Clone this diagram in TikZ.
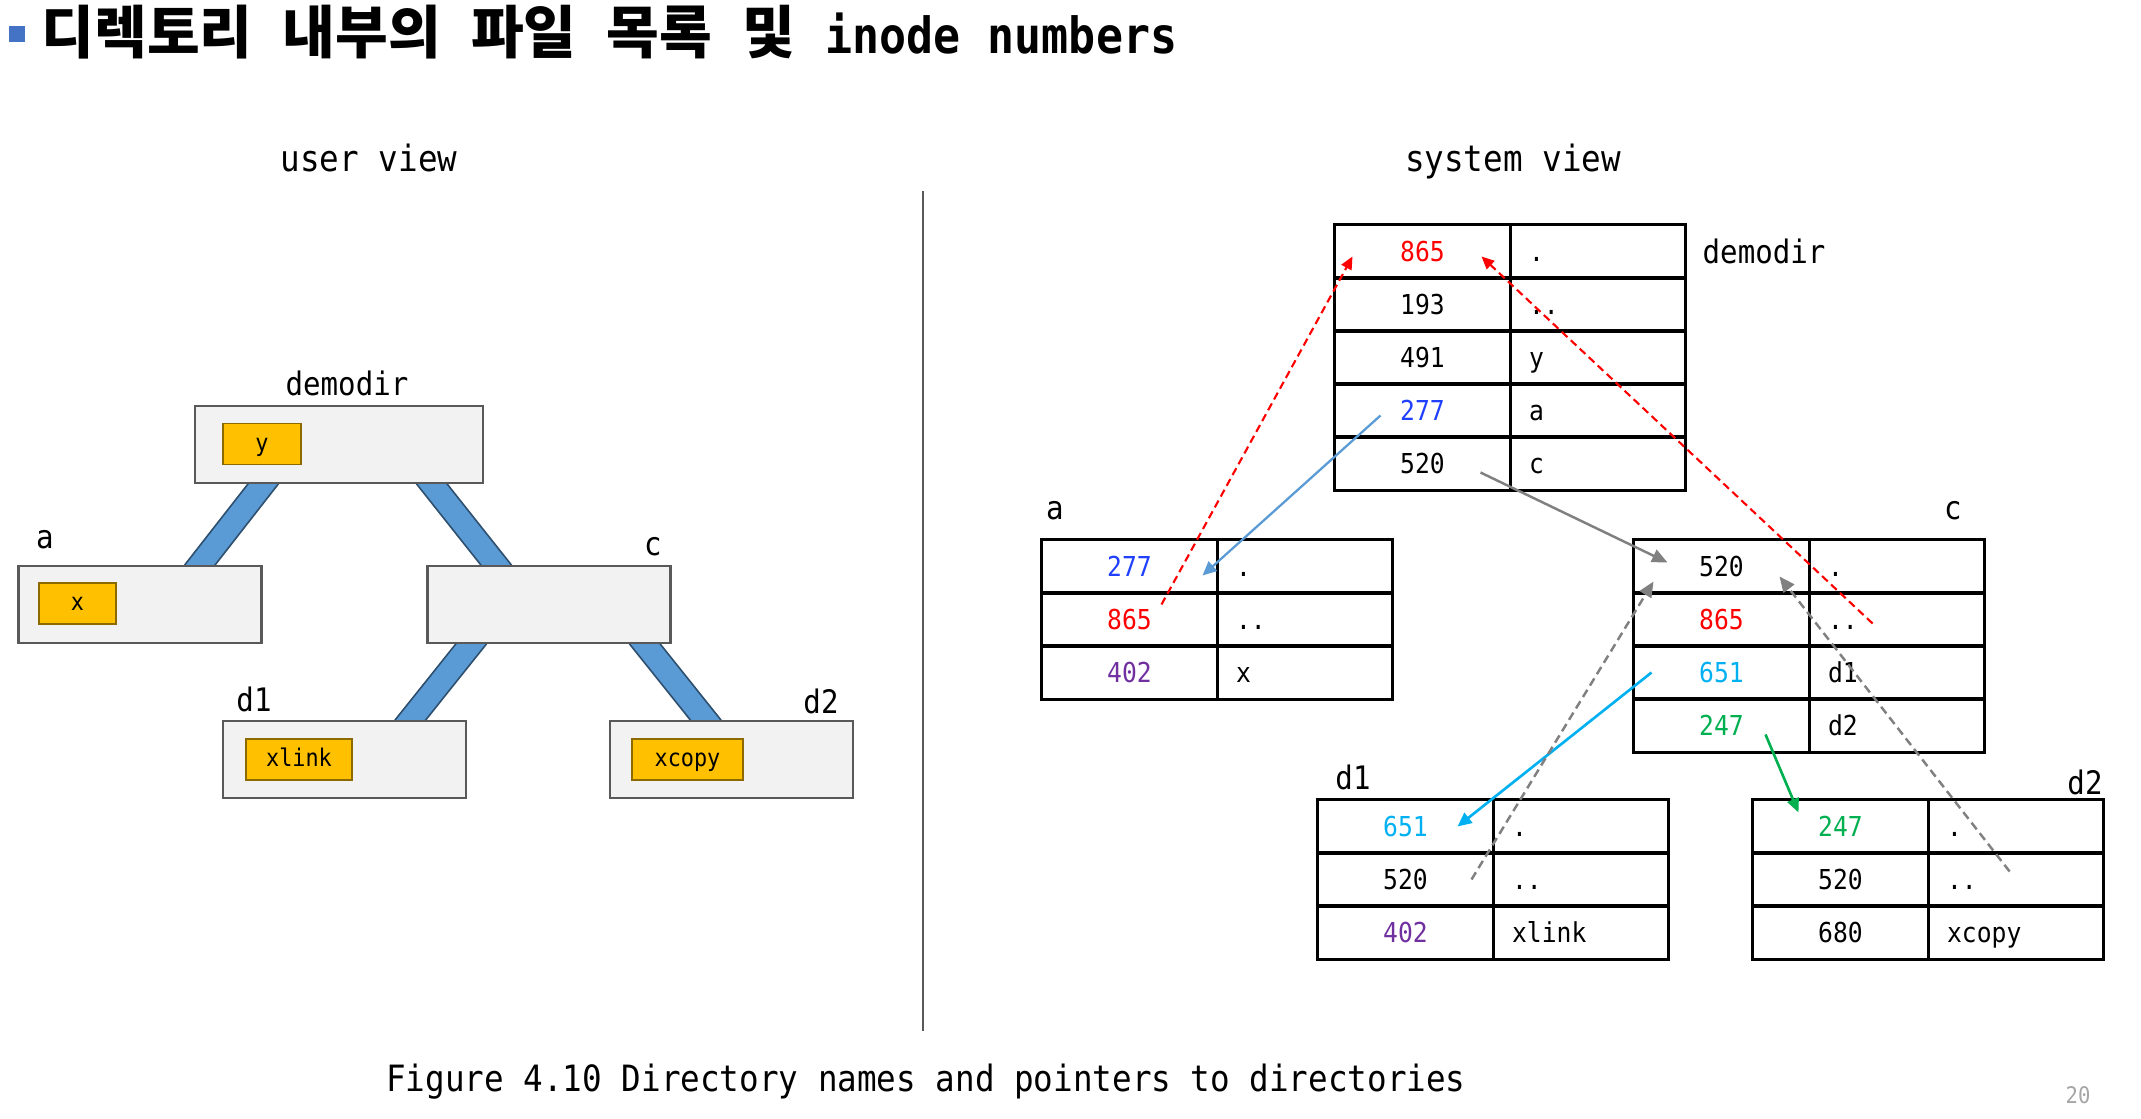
\documentclass[tikz,border=0pt]{standalone}
\usepackage{fontspec}
\setmainfont{DejaVu Sans Mono}[FakeStretch=0.9]
\newfontfamily\cjk{Noto Sans CJK KR}[WordSpace=2.3]
\usepackage{xcolor}
\usepackage{tikz}
\usetikzlibrary{calc,arrows.meta,positioning,backgrounds}
\definecolor{redc}{HTML}{FF0000}
\definecolor{bluec}{HTML}{2040FF}
\definecolor{purc}{HTML}{7030A0}
\definecolor{cyanc}{HTML}{00B0F0}
\definecolor{greenc}{HTML}{00B050}
\definecolor{linkc}{HTML}{5B9BD5}
\definecolor{bandedge}{HTML}{2E4F6E}
\definecolor{boxfill}{HTML}{F2F2F2}
\definecolor{boxedge}{HTML}{595959}
\definecolor{filec}{HTML}{FFC000}
\definecolor{fileedge}{HTML}{8C6A00}
\definecolor{grayc}{HTML}{808080}
\definecolor{bulletc}{HTML}{4472C4}
\tikzset{
  cell/.style={draw,line width=0.85pt,minimum height=0.53cm,inner sep=0pt,outer sep=0pt,
    font=\fontsize{7.8pt}{9pt}\selectfont,text height=5.5pt,text depth=0pt},
  numcell/.style={cell,minimum width=1.75cm},
  namecell/.style={cell,minimum width=1.75cm,text width=1.37cm,align=left,inner xsep=0.19cm},
  ubox/.style={draw=boxedge,fill=boxfill,line width=0.65pt,minimum height=0.77cm,inner sep=0pt},
  fbox/.style={draw=fileedge,fill=filec,line width=0.45pt,minimum height=0.41cm,inner sep=0pt,
    font=\fontsize{6.9pt}{8pt}\selectfont,text height=4.6pt,text depth=0.6pt},
  band/.style={line width=0.5pt,draw=bandedge,double=linkc,double distance=0.22cm,
    shorten <=-0.1cm,shorten >=-0.1cm},
  lab/.style={font=\fontsize{9.2pt}{11pt}\selectfont,inner sep=0pt,anchor=base},
  head/.style={font=\fontsize{10.3pt}{12pt}\selectfont,inner sep=0pt,anchor=base},
  redarr/.style={redc,line width=0.6pt,dash pattern=on 2.2pt off 1.3pt,-{Triangle[length=3.6pt,width=3.2pt]}},
  greyarr/.style={grayc,line width=0.7pt,-{Triangle[length=4.4pt,width=3.8pt]}},
  greydash/.style={greyarr,dash pattern=on 2.4pt off 1.4pt},
  bluearr/.style={linkc,line width=0.65pt,-{Triangle[length=4pt,width=3.6pt]}},
  cyanarr/.style={cyanc,line width=0.75pt,-{Triangle[length=4pt,width=3.6pt]}},
  greenarr/.style={greenc,line width=0.75pt,-{Triangle[length=4pt,width=3.4pt]}}
}
\newcommand{\dirtab}[4]{%
  \foreach \ino/\col/\fn [count=\i] in {#4}{%
    \node[numcell,text=\col] (#1-n\i) at ({#2+87.5},{#3+(\i-0.5)*53}) {\ino};
    \node[namecell,right=0pt of #1-n\i] (#1-f\i) {\fn};}
}

\begin{document}
\begin{tikzpicture}[x=0.01cm,y=-0.01cm]
\useasboundingbox (0,0) rectangle (2141,1119);
\node[fill=bulletc,minimum size=0.16cm,inner sep=0pt] (bullet) at (17,34) {};
\node[anchor=base west,inner sep=0pt,font=\bfseries\fontsize{16.3pt}{19pt}\selectfont] (title) at (41,54)
  {\cjk 디렉토리 내부의 파일 목록 및 \normalfont\bfseries\fontsize{14.2pt}{17pt}\selectfont inode numbers};
\node[head] (uview) at (369,172) {user view};
\node[head] (sview) at (1513,172) {system view};
\draw[boxedge,line width=0.55pt] (923,191) -- (923,1031);

\node[ubox,minimum width=2.88cm] (ud) at (339,444.5) {};
\node[ubox,minimum width=2.43cm] (ua) at (140,604.5) {};
\node[ubox,minimum width=2.43cm] (uc) at (549,604.5) {};
\node[ubox,minimum width=2.43cm] (ud1) at (344.5,759.5) {};
\node[ubox,minimum width=2.43cm] (ud2) at (731.5,759.5) {};
\node[fbox,minimum width=0.78cm] (uy) at (262,444) {y};
\node[fbox,minimum width=0.77cm] (ux) at (77.5,603.5) {x};
\node[fbox,minimum width=1.06cm] (uxlink) at (299,759.5) {xlink};
\node[fbox,minimum width=1.11cm] (uxcopy) at (687.5,759.5) {xcopy};
\node[lab] (lud) at (347,396) {demodir};
\node[lab] (lua) at (45,549) {a};
\node[lab] (luc) at (653,556) {c};
\node[lab] (lud1) at (254,712) {d1};
\node[lab] (lud2) at (821,714) {d2};
\begin{scope}[on background layer]
\draw[band] ($(ud.south)+(-76,0)$) -- ($(ua.north)+(60,0)$);
\draw[band] ($(ud.south)+(93,0)$) -- ($(uc.north)+(-53,0)$);
\draw[band] ($(uc.south)+(-78,0)$) -- ($(ud1.north)+(66,0)$);
\draw[band] ($(uc.south)+(96,0)$) -- ($(ud2.north)+(-26,0)$);
\end{scope}

\dirtab{dm}{1335}{225}{865/redc/., 193/black/.., 491/black/y, 277/bluec/a, 520/black/c}
\dirtab{ta}{1042}{540}{277/bluec/., 865/redc/.., 402/purc/x}
\dirtab{tc}{1634}{540}{520/black/., 865/redc/.., 651/cyanc/d1, 247/greenc/d2}
\dirtab{t1}{1318}{800}{651/cyanc/., 520/black/.., 402/purc/xlink}
\dirtab{t2}{1753}{800}{247/greenc/., 520/black/.., 680/black/xcopy}
\node[lab,anchor=base west] (ldm) at (1702,264) {demodir};
\node[lab] (lta) at (1055,520) {a};
\node[lab] (ltc) at (1953,520) {c};
\node[lab] (lt1) at (1353,790) {d1};
\node[lab] (lt2) at (2085,795) {d2};

\draw[redarr] ($(ta-n2.center)+(32,-15)$) -- ($(dm-n1.center)+(-70,5)$);
\draw[redarr] ($(tc-f2.center)+(-24,4)$) -- ($(dm-n1.center)+(59,5)$);
\draw[bluearr] ($(dm-n4.center)+(-42,5)$) -- ($(ta-n1.center)+(73,9)$);
\draw[greyarr] ($(dm-n5.center)+(58,9)$) -- ($(tc-n1.center)+(-54,-4)$);
\draw[cyanarr] ($(tc-n3.center)+(-70,0)$) -- ($(t1-n1.center)+(52,0)$);
\draw[greenarr] ($(tc-n4.center)+(44,9)$) -- ($(t2-n1.center)+(-42,-14)$);
\draw[greydash] ($(t1-n2.center)+(66,0)$) -- ($(tc-n1.center)+(-68,15)$);
\draw[greydash] ($(t2-f2.center)+(-6,-8)$) -- ($(tc-n1.center)+(58,10)$);

\node[head] (caption) at (926,1092) {Figure 4.10 Directory names and pointers to directories};
\node[font=\fontsize{6.5pt}{8pt}\selectfont,text=black!35] (pageno) at (2078,1095) {20};
\end{tikzpicture}
\end{document}
